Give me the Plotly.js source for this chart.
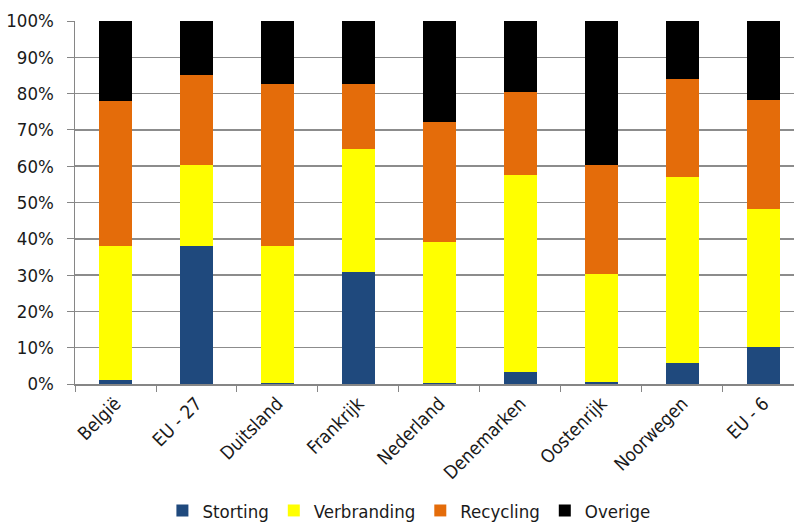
<!DOCTYPE html>
<html>
<head>
<meta charset="utf-8">
<script src="https://cdn.plot.ly/plotly-3.0.1.min.js"></script>
<style>html,body{margin:0;padding:0;background:#fff;overflow:hidden}</style>
</head>
<body>
<div id="chart" style="width:794px;height:524px"></div>
<script>
const categories = ["België", "EU - 27", "Duitsland", "Frankrijk", "Nederland", "Denemarken", "Oostenrijk", "Noorwegen", "EU - 6"];
const storting    = [1.1, 38.0, 0.3, 30.9, 0.3, 3.3, 0.6, 5.9, 10.2];
const verbranding = [37.0, 22.3, 37.8, 33.9, 38.9, 54.3, 29.6, 51.1, 38.0];
const recycling   = [39.9, 24.8, 44.6, 17.9, 32.9, 22.9, 30.1, 27.0, 30.0];
const overige     = [22.0, 14.9, 17.3, 17.3, 27.9, 19.5, 39.7, 16.0, 21.8];
const seriesNames = ["Storting", "Verbranding", "Recycling", "Overige"];
const seriesColors = ["#1F497D", "#FFFF00", "#E46C0A", "#000000"];
const seriesValues = [storting, verbranding, recycling, overige];

const FONT = "'Liberation Sans Narrow', 'Arial Narrow', 'DejaVu Sans Condensed', sans-serif";
const FS = 18.5;

const traces = seriesNames.map((n, i) => ({
  type: "bar",
  name: n,
  x: categories,
  y: seriesValues[i],
  width: 0.4,
  marker: {color: seriesColors[i], line: {width: 0}},
  hoverinfo: "x+y+name"
}));

const layout = {
  width: 794,
  height: 524,
  barmode: "stack",
  paper_bgcolor: "#fff",
  plot_bgcolor: "#fff",
  margin: {l: 75, r: 0, t: 21, b: 140},
  font: {family: FONT, size: FS, color: "#1a1a1a"},
  showlegend: true,
  legend: {
    orientation: "h",
    xref: "container", yref: "container",
    x: 0.515, xanchor: "center",
    y: 0.025, yanchor: "middle",
    font: {family: FONT, size: FS, color: "#1a1a1a"},
    traceorder: "normal",
    itemwidth: 30,
    itemclick: false
  },
  xaxis: {
    type: "category",
    range: [-0.5, 8.377],
    tickangle: -45,
    ticks: "outside",
    tickson: "boundaries",
    ticklen: 6,
    tickcolor: "#868686",
    showline: true,
    linecolor: "#868686",
    linewidth: 1.5,
    showgrid: false,
    tickfont: {family: FONT, size: FS, color: "#1a1a1a"}
  },
  yaxis: {
    range: [0, 100],
    dtick: 10,
    tick0: 0,
    ticksuffix: "%",
    ticks: "outside",
    ticklen: 7,
    tickcolor: "#868686",
    showline: true,
    linecolor: "#868686",
    linewidth: 1.5,
    showgrid: true,
    gridcolor: "#8c8c8c",
    gridwidth: 1.5,
    zeroline: false,
    ticklabelstandoff: 9,
    tickfont: {family: FONT, size: FS, color: "#1a1a1a"}
  }
};

Plotly.newPlot("chart", traces, layout, {displayModeBar: false, staticPlot: true});
</script>
</body>
</html>
